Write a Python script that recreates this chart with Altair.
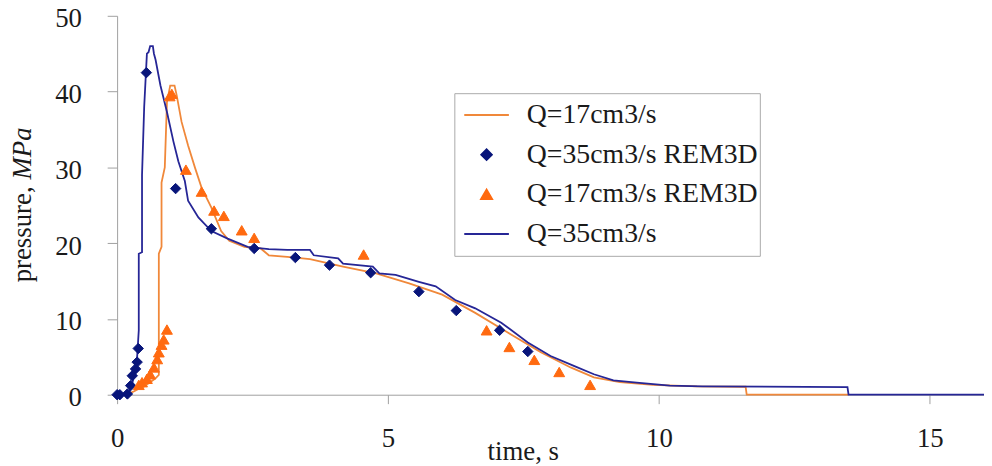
import altair as alt
import pandas as pd

# ---- data ----
series = ["Q=17cm3/s", "Q=35cm3/s REM3D", "Q=17cm3/s REM3D", "Q=35cm3/s"]

line35_t = [0, 0.15, 0.22, 0.28, 0.33, 0.37, 0.40, 0.40, 0.46, 0.46, 0.50, 0.55, 0.58, 0.61, 0.66,
            0.68, 0.71, 0.80, 0.92, 1.04, 1.13, 1.25, 1.31, 1.50, 1.74, 2.04, 2.41, 2.80, 3.14,
            3.56, 3.63, 4.08, 4.17, 4.72, 4.84, 5.14, 5.57, 5.88, 6.24, 6.61, 7.09, 7.58, 8.00,
            8.43, 8.80, 9.16, 9.59, 10.2, 10.8, 13.48, 13.5, 16.0]
line35_p = [0, 0.1, 0.3, 1.5, 3.0, 5.0, 8.5, 18.6, 18.8, 29.0, 38.0, 45.0, 45.2, 46.0, 46.0,
            45.0, 44.2, 40.8, 37.3, 33.4, 30.8, 28.2, 25.6, 23.4, 21.6, 20.6, 19.5, 19.2, 19.1,
            19.1, 18.4, 18.0, 17.3, 16.9, 16.0, 15.8, 14.9, 14.3, 12.5, 11.4, 9.5, 6.9, 5.1,
            3.8, 2.7, 1.9, 1.6, 1.2, 1.1, 1.0, 0, 0]

line17_t = [0, 0.2, 0.3, 0.4, 0.5, 0.6, 0.7, 0.77, 0.77, 0.82, 0.82, 0.88, 0.92, 0.98, 1.06,
            1.10, 1.19, 1.31, 1.44, 1.56, 1.74, 1.92, 2.07, 2.35, 2.65, 2.80, 3.14, 3.56, 4.17,
            4.78, 5.39, 6.00, 6.61, 7.21, 7.82, 8.37, 8.80, 9.28, 9.89, 10.7, 11.6, 11.62, 13.5]
line17_p = [0, 0.1, 0.4, 0.8, 1.1, 1.6, 2.1, 2.6, 18.6, 19.5, 28.0, 30.0, 38.6, 40.8, 40.8,
            39.5, 36.0, 32.9, 29.9, 27.3, 24.7, 21.6, 20.3, 19.5, 19.3, 18.4, 18.2, 17.9, 16.9,
            16.0, 14.7, 13.2, 10.8, 8.2, 5.6, 3.6, 2.3, 1.65, 1.3, 1.1, 1.05, 0, 0]

rem35_t = [0, 0.05, 0.19, 0.25, 0.28, 0.34, 0.37, 0.39, 0.54, 1.08, 1.74, 2.53, 3.29, 3.92,
           4.68, 5.57, 6.26, 7.06, 7.58]
rem35_p = [0, 0, 0.1, 1.2, 2.5, 3.4, 4.3, 6.1, 42.5, 27.2, 21.9, 19.3, 18.1, 17.1,
           16.1, 13.6, 11.1, 8.5, 5.7]

rem17_t = [0.40, 0.46, 0.55, 0.61, 0.68, 0.74, 0.77, 0.82, 0.86, 0.92, 0.97, 1.01, 1.27, 1.56,
           1.79, 1.97, 2.30, 2.53, 4.55, 6.82, 7.24, 7.70, 8.16, 8.73]
rem17_p = [1.3, 1.65, 2.1, 2.7, 3.6, 4.7, 5.6, 6.6, 7.3, 8.6, 39.4, 39.7, 29.7, 26.8,
           24.3, 23.6, 21.7, 20.7, 18.5, 8.5, 6.3, 4.6, 3.0, 1.3]

x_ticks = [0, 5, 10, 15]
y_ticks = [0, 10, 20, 30, 40, 50]

# ---- tables ----
lines = pd.concat([
    pd.DataFrame({"t": line17_t, "p": line17_p, "series": series[0], "idx": range(len(line17_t))}),
    pd.DataFrame({"t": line35_t, "p": line35_p, "series": series[3], "idx": range(len(line35_t))}),
])
points = pd.concat([
    pd.DataFrame({"t": rem35_t, "p": rem35_p, "series": series[1]}),
    pd.DataFrame({"t": rem17_t, "p": rem17_p, "series": series[2]}),
])

colors = ["#f0883a", "#08157a", "#ff6a10", "#262696"]
FONT = "Liberation Serif"
TXT = "#1a1a1a"

legend = alt.Legend(
    title=None, orient="none", legendX=340, legendY=78,
    labelFont=FONT, labelFontSize=28, labelColor=TXT, labelOffset=17, labelLimit=500,
    strokeColor="#aaaaaa", fillColor="white", padding=2,
    symbolStrokeWidth=2, clipHeight=40, rowPadding=0, symbolOffset=7,
)

xscale = alt.Scale(domain=[0, 16], nice=False)
yscale = alt.Scale(domain=[0, 50], nice=False)

xaxis = alt.Axis(values=x_ticks, tickSize=9, labelPadding=22, grid=False,
                 domainColor="#a0a0a0", tickColor="#a0a0a0",
                 labelFont=FONT, labelFontSize=27, labelColor=TXT, labelFlush=False,
                 title="time, s", titleFont=FONT, titleFontSize=27, titleFontWeight="normal",
                 titleColor=TXT, titleX=409, titleY=65, titleBaseline="alphabetic",
                 titleAlign="center")
yaxis = alt.Axis(values=y_ticks, tickSize=10, labelPadding=26, labelOffset=3, grid=False,
                 domainColor="#a0a0a0", tickColor="#a0a0a0",
                 labelFont=FONT, labelFontSize=27, labelColor=TXT, title=None)

stroke_enc = alt.Stroke("series:N", scale=alt.Scale(domain=series, range=colors), legend=legend)

line_layer = alt.Chart(lines).mark_line(strokeWidth=1.8).encode(
    x=alt.X("t:Q", scale=xscale, axis=xaxis),
    y=alt.Y("p:Q", scale=yscale, axis=yaxis),
    stroke=stroke_enc,
    detail="series:N",
    order="idx:Q",
)

point_layer = alt.Chart(points).mark_point(filled=True, opacity=1, strokeWidth=1).encode(
    x=alt.X("t:Q", scale=xscale),
    y=alt.Y("p:Q", scale=yscale),
    stroke=stroke_enc,
    fill=alt.Fill("series:N", scale=alt.Scale(domain=series, range=colors), legend=legend),
    shape=alt.Shape("series:N", scale=alt.Scale(domain=series,
                    range=["stroke", "diamond", "triangle-up", "stroke"]), legend=legend),
    size=alt.Size("series:N", scale=alt.Scale(type="ordinal", domain=series,
                  range=[2025, 110, 120, 2025]), legend=legend),
)

ytitle1 = alt.Chart(pd.DataFrame({"s": ["pressure,"]})).mark_text(
    angle=270, align="right", baseline="middle", font=FONT, fontSize=27, color=TXT
).encode(text="s:N", x=alt.value(-95), y=alt.value(172))
ytitle2 = alt.Chart(pd.DataFrame({"s": ["MPa"]})).mark_text(
    angle=270, align="left", baseline="middle", font=FONT, fontSize=27, fontStyle="italic",
    color=TXT, dx=7
).encode(text="s:N", x=alt.value(-95), y=alt.value(172))

chart = alt.layer(line_layer, point_layer, ytitle1, ytitle2).properties(
    width=874, height=382,
    autosize=alt.AutoSizeParams(type="none"),
    padding={"left": 110, "top": 6, "right": 0, "bottom": 70},
).configure(
    background="white", font=FONT,
).configure_view(
    stroke=None
).configure_axis(
    labelFont=FONT, titleFont=FONT
).configure_legend(
    labelFont=FONT
)

chart.save("out.html", embed_options={"renderer": "svg", "actions": False})
